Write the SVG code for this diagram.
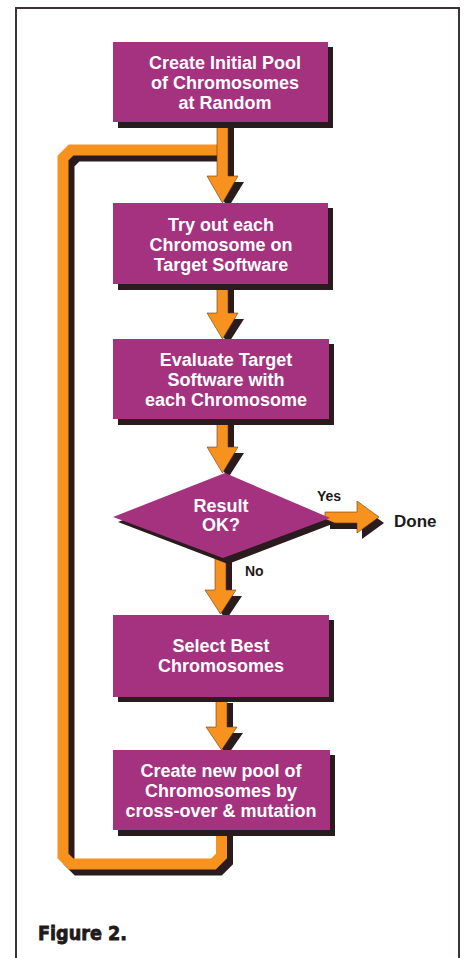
<svg xmlns="http://www.w3.org/2000/svg" width="465" height="958" viewBox="0 0 465 958">
<style>
.box{fill:#A5327F}
.sh{fill:#2a1b1f}
.arr{fill:#F7921E;stroke:#6b3a10;stroke-width:0.6}
.t{font-family:"Liberation Sans",Arial,sans-serif;font-weight:bold;font-size:18px;fill:#fff;text-anchor:middle}
.d{font-family:"Liberation Sans",Arial,sans-serif;font-weight:bold;fill:#1e1a1a}
</style>
<rect x="0" y="0" width="465" height="958" fill="#fff"/>
<rect x="16" y="8" width="443" height="960" fill="none" stroke="#3a3434" stroke-width="2"/>

<g id="connectors">
  <!-- loop back -->
  <path d="M227.5,830 V862 L219.5,870 H77 L69,862 V164 L77,156 H229" fill="none" stroke="#2a1b1f" stroke-width="11"/>
  <path d="M221.5,828 V856 L213.5,864 H71 L63,856 V158 L71,150 H223" fill="none" stroke="#F7921E" stroke-width="11"/>
  <!-- arrow 1 -->
  <polygon class="sh" points="223,128 234,128 234,182 244,182 228,208 212,182 223,182"/>
  <polygon class="arr" points="217,122 228,122 228,176 238,176 222.5,203 207,176 217,176"/>
  <!-- arrow 2 -->
  <polygon class="sh" points="223,290 234,290 234,319 244,319 228,344 212,319 223,319"/>
  <polygon class="arr" points="217,284 228,284 228,313 238,313 222.5,339 207,313 217,313"/>
  <!-- arrow 3 -->
  <polygon class="sh" points="223,425 234,425 234,453 244,453 228,478 212,453 223,453"/>
  <polygon class="arr" points="217,419 228,419 228,447 238,447 222.5,473 207,447 217,447"/>
  <!-- No arrow -->
  <polygon class="sh" points="221,562 232,562 232,596 242,596 226,620 210,596 221,596"/>
  <polygon class="arr" points="215,557 226,557 226,590 236,590 220.5,614 205,590 215,590"/>
  <!-- arrow 5 -->
  <polygon class="sh" points="222,703 233,703 233,733 243,733 227,756 211,733 222,733"/>
  <polygon class="arr" points="216,697 227,697 227,727 237,727 221.5,750 206,727 216,727"/>
  <!-- Yes arrow -->
  <polygon class="sh" points="330,518 362,518 362,507 384,523 362,539 362,529 330,529"/>
  <polygon class="arr" points="325,512 357,512 357,501 379,517 357,533 357,523 325,523"/>
  <text class="d" x="317" y="501" font-size="14">Yes</text>
  <text class="d" x="245" y="576" font-size="14">No</text>
</g>

<g id="n1">
  <rect class="sh" x="118" y="47" width="215" height="81"/>
  <rect class="box" x="113" y="42" width="215" height="80"/>
  <text class="t" x="225" y="69">Create Initial Pool</text>
  <text class="t" x="225" y="89">of Chromosomes</text>
  <text class="t" x="225" y="109">at Random</text>
</g>

<g id="n2">
  <rect class="sh" x="118" y="208" width="215" height="82"/>
  <rect class="box" x="113" y="203" width="215" height="81"/>
  <text class="t" x="221" y="231">Try out each</text>
  <text class="t" x="221" y="251">Chromosome on</text>
  <text class="t" x="221" y="271">Target Software</text>
</g>

<g id="n3">
  <rect class="sh" x="118" y="344" width="216" height="81"/>
  <rect class="box" x="113" y="339" width="216" height="80"/>
  <text class="t" x="226" y="366">Evaluate Target</text>
  <text class="t" x="226" y="386">Software with</text>
  <text class="t" x="226" y="406">each Chromosome</text>
</g>

<g id="n4">
  <polygon class="sh" points="118,522 230,478 335,523 228,564"/>
  <polygon class="box" points="113,517 225,473 330,518 223,558"/>
  <text class="t" x="221" y="512">Result</text>
  <text class="t" x="221" y="531">OK?</text>
</g>

<g id="n5">
  <text class="d" x="394" y="527" font-size="17">Done</text>
</g>

<g id="n6">
  <rect class="sh" x="118" y="620" width="216" height="82"/>
  <rect class="box" x="113" y="615" width="216" height="82"/>
  <text class="t" x="221" y="652">Select Best</text>
  <text class="t" x="221" y="672">Chromosomes</text>
</g>

<g id="n7">
  <rect class="sh" x="118" y="755" width="217" height="81"/>
  <rect class="box" x="113" y="750" width="217" height="80"/>
  <text class="t" x="221" y="777">Create new pool of</text>
  <text class="t" x="221" y="797">Chromosomes by</text>
  <text class="t" x="221" y="817">cross-over &amp; mutation</text>
</g>

<text id="caption" x="38" y="940" font-family="'DejaVu Sans','Liberation Sans',sans-serif" font-weight="bold" font-size="19" fill="#1e1a1a" stroke="#1e1a1a" stroke-width="0.8" textLength="89" lengthAdjust="spacingAndGlyphs">Figure 2.</text>
</svg>
